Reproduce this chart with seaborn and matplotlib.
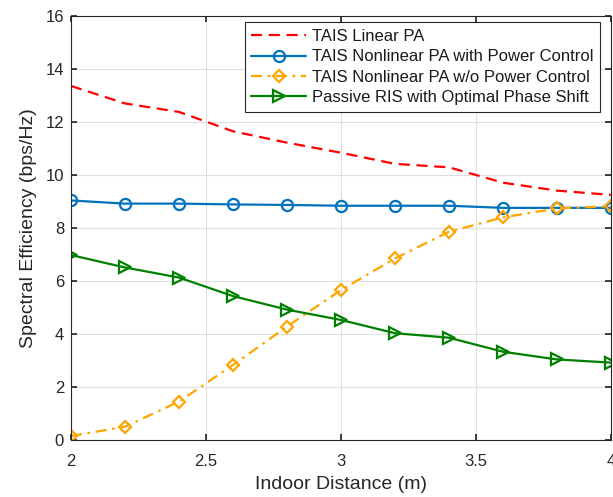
import matplotlib
matplotlib.use("Agg")
import matplotlib.pyplot as plt
import seaborn as sns
import pandas as pd

distance = [2.0, 2.2, 2.4, 2.6, 2.8, 3.0, 3.2, 3.4, 3.6, 3.8, 4.0]
linear_pa = [13.36, 12.7, 12.38, 11.65, 11.22, 10.84, 10.42, 10.29, 9.71, 9.41, 9.25]
nonlinear_pc = [9.04, 8.92, 8.92, 8.89, 8.87, 8.84, 8.84, 8.84, 8.76, 8.76, 8.76]
nonlinear_nopc = [0.15, 0.5, 1.45, 2.83, 4.28, 5.66, 6.85, 7.86, 8.4, 8.74, 8.82]
passive_ris = [6.98, 6.51, 6.13, 5.43, 4.92, 4.53, 4.03, 3.86, 3.33, 3.04, 2.92]

labels = ["TAIS Linear PA", "TAIS Nonlinear PA with Power Control",
          "TAIS Nonlinear PA w/o Power Control", "Passive RIS with Optimal Phase Shift"]

sns.set_theme(style="whitegrid")
plt.rcParams['font.family'] = ['Liberation Sans', 'DejaVu Sans']

fig = plt.figure(figsize=(6.13, 4.97), dpi=100)
ax = fig.add_axes([0.1158, 0.1147, 0.8809, 0.8531])

styles = [
    dict(color="#FF0000", linestyle=(0, (5, 3)), marker=None, ms=0),
    dict(color="#0072BD", linestyle="-", marker="o", ms=8),
    dict(color="#FFA500", linestyle=(0, (5, 2.5, 1.2, 2.5)), marker="D", ms=6.5),
    dict(color="#008000", linestyle="-", marker=">", ms=8.5),
]
series = [linear_pa, nonlinear_pc, nonlinear_nopc, passive_ris]
for vals, lab, st in zip(series, labels, styles):
    df = pd.DataFrame({"x": distance, "y": vals})
    sns.lineplot(data=df, x="x", y="y", ax=ax, label=lab, color=st["color"],
                 linestyle=st["linestyle"], marker=st["marker"], markersize=st["ms"],
                 markerfacecolor="none", markeredgecolor=st["color"], markeredgewidth=1.6,
                 linewidth=1.6)

ax.set_xlim(2, 4)
ax.set_ylim(0, 16)
ax.set_xticks([2, 2.5, 3, 3.5, 4])
ax.set_xticklabels(["2", "2.5", "3", "3.5", "4"])
ax.set_yticks(range(0, 17, 2))
ax.set_xlabel("Indoor Distance (m)", fontsize=14, labelpad=5)
ax.set_ylabel("Spectral Efficiency (bps/Hz)", fontsize=14, labelpad=6)
ax.tick_params(axis="both", labelsize=12, direction="in", length=4, color="#262626",
               labelcolor="#262626", top=True, right=True, bottom=True, left=True, pad=5)
ax.tick_params(axis="x", pad=10)
ax.grid(True, color="#DFDFDF", linewidth=0.8)
for s in ax.spines.values():
    s.set_edgecolor("#262626")
    s.set_linewidth(0.8)

leg = ax.legend(loc="upper right", bbox_to_anchor=(0.98, 0.985), fontsize=12, frameon=True,
                fancybox=False, edgecolor="#262626", framealpha=1, borderpad=0.4,
                labelspacing=0.32, handlelength=3.3, handletextpad=0.35, borderaxespad=0.0)
leg.get_frame().set_linewidth(0.8)
for t in leg.get_texts():
    t.set_color("#1a1a1a")

fig.savefig("out.png", dpi=100)
